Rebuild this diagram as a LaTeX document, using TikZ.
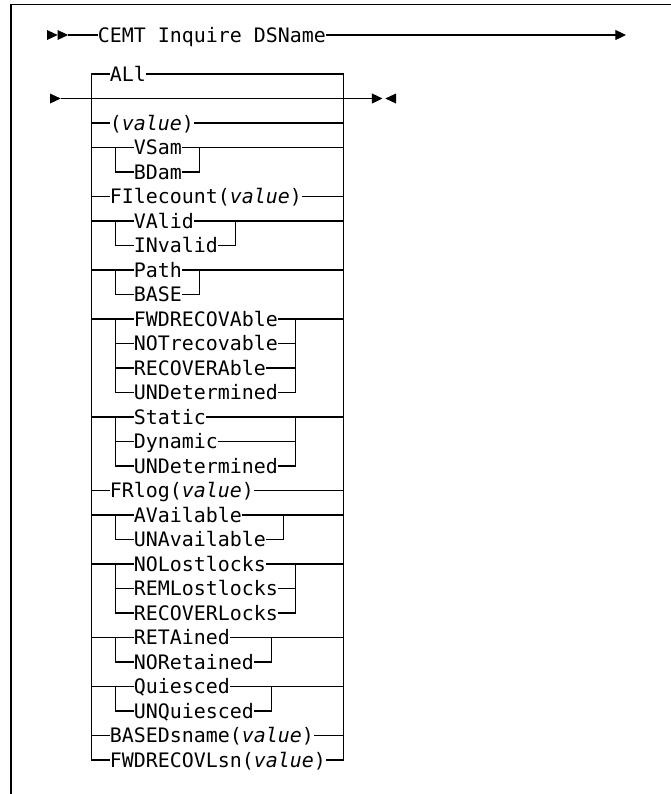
\documentclass[tikz,border=0pt]{standalone}
\usepackage{fontspec}
\setmonofont{DejaVu Sans Mono}
\usetikzlibrary{arrows.meta,positioning}

\begin{document}
\begin{tikzpicture}[x=0.75pt, y=-0.75pt]

    \tikzstyle{kw} = [
        inner sep=0pt,
        anchor=west,
        text height=10.9pt,
        text depth=0pt,
        font=\ttfamily\fontsize{14.95pt}{18pt}\selectfont
    ]
    \tikzstyle{line} = [
        draw,
        line width=0.9pt,
    ]
    \tikzstyle{endtip} = [
        -{Triangle[length=8pt,width=7.5pt]},
    ]
    \tikzset{railhead/.pic={\fill (0,-5) -- (10.7,0) -- (0,5) -- cycle;}}

    \useasboundingbox (0,0) rectangle (671,794);
    \draw[line width=0.9pt] (671,4.5) -- (11,4.5) -- (11,794);

    % command line
    \node [kw] (title) at (97.7,35) {CEMT Inquire DSName};
    \pic at (47,35) {railhead};
    \pic at (57.5,35) {railhead};
    \coordinate (tin) at (68,35);
    \coordinate (tout) at (626,35);
    \path [line] (tin) -- (title.west);
    \path [line, endtip] (title.east) -- (tout);

    % rails
    \coordinate (L) at (91.7,0);
    \coordinate (G) at (115.7,0);
    \coordinate (R) at (343.7,0);
    \coordinate (vsR) at (199.7,0);
    \coordinate (vaR) at (235.7,0);
    \coordinate (paR) at (199.7,0);
    \coordinate (fwR) at (295.7,0);
    \coordinate (stR) at (295.7,0);
    \coordinate (avR) at (283.7,0);
    \coordinate (noR) at (295.7,0);
    \coordinate (reR) at (271.7,0);
    \coordinate (quR) at (271.7,0);

    % main line
    \pic at (50,98.5) {railhead};
    \coordinate (min) at (60.7,98.5);
    \coordinate (mout) at (382.5,98.5);
    \path [line, endtip] (min) -- (mout);
    \pic [rotate=180] at (396,98.5) {railhead};

    % options
    \node [kw] (all)     at (109.7,74)    {ALl};
    \node [kw] (val)     at (109.7,123)   {(\textit{value})};
    \node [kw] (vsam)    at (133.7,147.5) {VSam};
    \node [kw] (bdam)    at (133.7,172)   {BDam};
    \node [kw] (filec)   at (109.7,196.5) {FIlecount(\textit{value})};
    \node [kw] (valid)   at (133.7,221)   {VAlid};
    \node [kw] (inval)   at (133.7,245.5) {INvalid};
    \node [kw] (path)    at (133.7,270)   {Path};
    \node [kw] (base)    at (133.7,294.5) {BASE};
    \node [kw] (fwdrec)  at (133.7,319)   {FWDRECOVAble};
    \node [kw] (notrec)  at (133.7,343.5) {NOTrecovable};
    \node [kw] (recov)   at (133.7,368)   {RECOVERAble};
    \node [kw] (undet)   at (133.7,392.5) {UNDetermined};
    \node [kw] (static)  at (133.7,417)   {Static};
    \node [kw] (dynam)   at (133.7,441.5) {Dynamic};
    \node [kw] (undett)  at (133.7,466)   {UNDetermined};
    \node [kw] (frlog)   at (109.7,490.5) {FRlog(\textit{value})};
    \node [kw] (avail)   at (133.7,515)   {AVailable};
    \node [kw] (unavail) at (133.7,539.5) {UNAvailable};
    \node [kw] (nolost)  at (133.7,564)   {NOLostlocks};
    \node [kw] (remlost) at (133.7,588.5) {REMLostlocks};
    \node [kw] (recovl)  at (133.7,613)   {RECOVERLocks};
    \node [kw] (retain)  at (133.7,637.5) {RETAined};
    \node [kw] (noret)   at (133.7,662)   {NORetained};
    \node [kw] (quies)   at (133.7,686.5) {Quiesced};
    \node [kw] (unquies) at (133.7,711)   {UNQuiesced};
    \node [kw] (based)   at (109.7,735.5) {BASEDsname(\textit{value})};
    \node [kw] (fwdlsn)  at (109.7,760)   {FWDRECOVLsn(\textit{value})};

    % outer frame of the choice
    \path [line] (all.west) -- (all.west -| L) -- (fwdlsn.west -| L) -- (fwdlsn.west);
    \path [line] (all.east) -- (all.east -| R) -- (fwdlsn.east -| R) -- (fwdlsn.east);

    \path [line] (val.west -| L) -- (val.west);
    \path [line] (val.east) -- (val.east -| R);
    \path [line] (filec.west -| L) -- (filec.west);
    \path [line] (filec.east) -- (filec.east -| R);
    \path [line] (frlog.west -| L) -- (frlog.west);
    \path [line] (frlog.east) -- (frlog.east -| R);
    \path [line] (based.west -| L) -- (based.west);
    \path [line] (based.east) -- (based.east -| R);

    % VSam / BDam
    \path [line] (vsam.west -| L) -- (vsam.west);
    \path [line] (vsam.east) -- (vsam.east -| R);
    \path [line] (vsam.west -| G) |- (bdam.west);
    \path [line] (vsam.east -| vsR) |- (bdam.east);

    % VAlid / INvalid
    \path [line] (valid.west -| L) -- (valid.west);
    \path [line] (valid.east) -- (valid.east -| R);
    \path [line] (valid.west -| G) |- (inval.west);
    \path [line] (valid.east -| vaR) |- (inval.east);

    % Path / BASE
    \path [line] (path.west -| L) -- (path.west);
    \path [line] (path.east) -- (path.east -| R);
    \path [line] (path.west -| G) |- (base.west);
    \path [line] (path.east -| paR) |- (base.east);

    % recovery
    \path [line] (fwdrec.west -| L) -- (fwdrec.west);
    \path [line] (fwdrec.east) -- (fwdrec.east -| R);
    \path [line] (fwdrec.west -| G) |- (undet.west);
    \path [line] (notrec.west -| G) -- (notrec.west);
    \path [line] (recov.west -| G) -- (recov.west);
    \path [line] (fwdrec.east -| fwR) |- (undet.east);
    \path [line] (notrec.east) -- (notrec.east -| fwR);
    \path [line] (recov.east) -- (recov.east -| fwR);

    % Static / Dynamic
    \path [line] (static.west -| L) -- (static.west);
    \path [line] (static.east) -- (static.east -| R);
    \path [line] (static.west -| G) |- (undett.west);
    \path [line] (dynam.west -| G) -- (dynam.west);
    \path [line] (static.east -| stR) |- (undett.east);
    \path [line] (dynam.east) -- (dynam.east -| stR);

    % AVailable / UNAvailable
    \path [line] (avail.west -| L) -- (avail.west);
    \path [line] (avail.east) -- (avail.east -| R);
    \path [line] (avail.west -| G) |- (unavail.west);
    \path [line] (avail.east -| avR) |- (unavail.east);

    % lost locks
    \path [line] (nolost.west -| L) -- (nolost.west);
    \path [line] (nolost.east) -- (nolost.east -| R);
    \path [line] (nolost.west -| G) |- (recovl.west);
    \path [line] (remlost.west -| G) -- (remlost.west);
    \path [line] (nolost.east -| noR) |- (recovl.east);
    \path [line] (remlost.east) -- (remlost.east -| noR);

    % RETAined / NORetained
    \path [line] (retain.west -| L) -- (retain.west);
    \path [line] (retain.east) -- (retain.east -| R);
    \path [line] (retain.west -| G) |- (noret.west);
    \path [line] (retain.east -| reR) |- (noret.east);

    % Quiesced / UNQuiesced
    \path [line] (quies.west -| L) -- (quies.west);
    \path [line] (quies.east) -- (quies.east -| R);
    \path [line] (quies.west -| G) |- (unquies.west);
    \path [line] (quies.east -| quR) |- (unquies.east);

\end{tikzpicture}
\end{document}
